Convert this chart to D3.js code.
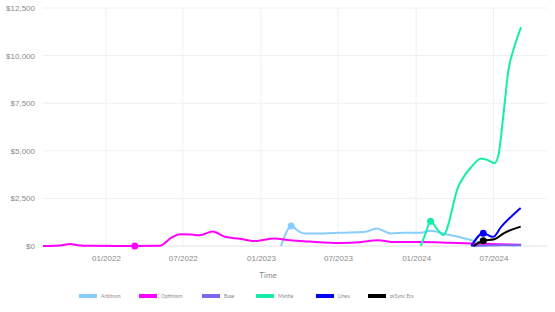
<!DOCTYPE html>
<html>
<head>
<meta charset="utf-8">
<script src="https://cdn.jsdelivr.net/npm/d3@7"></script>
<style>
  body { margin: 0; background: #fff; }
  svg { font-family: Lato, "Open Sans", sans-serif; }
</style>
</head>
<body>
<svg></svg>
<script>
var w = 555, h = 312;

// series names and colours (legend order)
var seriesNames = ["Arbitrum", "Optimism", "Base", "Mantle", "Linea", "zkSync Era"];
var seriesColors = ["#87cefa", "#ff00ff", "#7b68ee", "#14eeaa", "#0000ff", "#000000"];

// dates / values per series
var arbDates = ["2023-02-17","2023-03-01","2023-03-13","2023-03-30","2023-04-15","2023-05-21","2023-07-07","2023-09-04","2023-09-30","2023-11-02","2023-12-07","2024-01-12","2024-02-04","2024-03-11","2024-04-16","2024-06-02","2024-07-08","2024-09-04"];
var arbValues = [0, 700, 1050, 780, 650, 660, 700, 750, 920, 660, 700, 700, 800, 620, 450, 180, 60, 20];

var opDates = ["2021-08-06","2021-09-15","2021-10-09","2021-10-28","2021-11-25","2022-03-10","2022-05-08","2022-06-05","2022-06-24","2022-07-22","2022-08-10","2022-09-09","2022-10-08","2022-11-12","2022-12-17","2023-02-02","2023-03-10","2023-04-26","2023-07-06","2023-08-22","2023-10-03","2023-11-12","2024-01-10","2024-03-21","2024-05-31","2024-09-04"];
var opValues = [0, 30, 100, 40, 10, 0, 10, 450, 620, 600, 560, 760, 490, 380, 260, 400, 300, 230, 160, 200, 300, 210, 210, 170, 120, 60];

var baseDates = ["2024-05-10","2024-06-20","2024-09-04"];
var baseValues = [0, 20, 60];

var mantleDates = ["2024-01-12","2024-01-24","2024-02-04","2024-02-19","2024-03-05","2024-04-09","2024-05-10","2024-06-02","2024-06-19","2024-07-03","2024-07-12","2024-07-24","2024-08-05","2024-08-19","2024-09-04"];
var mantleValues = [0, 700, 1300, 900, 580, 3100, 4150, 4600, 4500, 4350, 4700, 6800, 9200, 10450, 11500];

var lineaDates = ["2024-05-10","2024-06-07","2024-06-30","2024-07-19","2024-09-03"];
var lineaValues = [0, 670, 480, 1000, 2000];

var zkDates = ["2024-05-15","2024-06-07","2024-07-03","2024-07-26","2024-09-03"];
var zkValues = [0, 280, 350, 680, 1020];

// highlighted point per series (null = none)
var dotDates = ["2023-03-13","2022-03-10",null,"2024-02-04","2024-06-07","2024-06-07"];

var yTicks = [0, 2500, 5000, 7500, 10000, 12500];
var xTicks = ["2022-01-01","2022-07-01","2023-01-01","2023-07-01","2024-01-01","2024-07-01"];

var parse = d3.timeParse("%Y-%m-%d");
var allDates = [arbDates, opDates, baseDates, mantleDates, lineaDates, zkDates];
var allValues = [arbValues, opValues, baseValues, mantleValues, lineaValues, zkValues];

var series = seriesNames.map(function (n, i) {
  return {
    name: n,
    color: seriesColors[i],
    points: allDates[i].map(function (d, j) { return { date: parse(d), value: allValues[i][j] }; }),
    dot: dotDates[i] ? parse(dotDates[i]) : null
  };
});

var margin = { left: 43, right: 8, top: 8, bottom: 66 };

var svg = d3.select("svg").attr("width", w).attr("height", h);

var x = d3.scaleTime()
  .domain([parse("2021-08-06"), parse("2024-11-04")])
  .range([margin.left, w - margin.right]);
var y = d3.scaleLinear()
  .domain([0, 12500])
  .range([h - margin.bottom, margin.top]);

// grid
svg.append("g").selectAll("line.h")
  .data(yTicks).enter().append("line")
  .attr("x1", margin.left).attr("x2", w - margin.right)
  .attr("y1", d => y(d)).attr("y2", d => y(d))
  .attr("stroke", d => d === 0 ? "#e2e2e2" : "#f0f0f0");
svg.append("g").selectAll("line.v")
  .data(xTicks).enter().append("line")
  .attr("x1", d => x(parse(d))).attr("x2", d => x(parse(d)))
  .attr("y1", margin.top).attr("y2", h - margin.bottom)
  .attr("stroke", "#f0f0f0");

// axes
var yAxis = svg.append("g")
  .attr("transform", "translate(" + (margin.left - 5) + ",0)")
  .call(d3.axisLeft(y).tickValues(yTicks).tickSize(0).tickFormat(d => "$" + d3.format(",")(d)));
var xAxis = svg.append("g")
  .attr("transform", "translate(0," + (h - margin.bottom + 6) + ")")
  .call(d3.axisBottom(x).tickValues(xTicks.map(parse)).tickSize(0).tickFormat(d3.timeFormat("%m/%Y")));
[yAxis, xAxis].forEach(function (a) {
  a.select(".domain").remove();
  a.selectAll("text").attr("fill", "#8a8a8a").style("font-size", "8px");
});

svg.append("text")
  .attr("x", 268).attr("y", 278)
  .attr("text-anchor", "middle")
  .attr("fill", "#8a8a8a")
  .style("font-size", "8px")
  .text("Time");

// lines
var line = d3.line()
  .x(d => x(d.date))
  .y(d => y(d.value))
  .curve(d3.curveMonotoneX);

svg.append("g").selectAll("path")
  .data(series).enter().append("path")
  .attr("d", d => line(d.points))
  .attr("fill", "none")
  .attr("stroke", d => d.color)
  .attr("stroke-width", 2);

// highlighted dots
svg.append("g").selectAll("circle")
  .data(series.filter(s => s.dot)).enter().append("circle")
  .attr("cx", d => x(d.dot))
  .attr("cy", function (d) {
    var p = d.points.filter(q => +q.date === +d.dot)[0];
    return y(p.value);
  })
  .attr("r", 3.5)
  .attr("fill", d => d.color);

// legend
var legendX = [79, 139, 202, 256, 316, 368];
var legend = svg.append("g").selectAll("g")
  .data(series).enter().append("g")
  .attr("transform", (d, i) => "translate(" + legendX[i] + ",296)");
legend.append("rect")
  .attr("x", 0).attr("y", -2).attr("width", 18).attr("height", 4)
  .attr("fill", d => d.color);
legend.append("text")
  .attr("x", 22).attr("y", 1.8)
  .attr("fill", "#8a8a8a")
  .style("font-size", "5px")
  .text(d => d.name);
</script>
</body>
</html>
